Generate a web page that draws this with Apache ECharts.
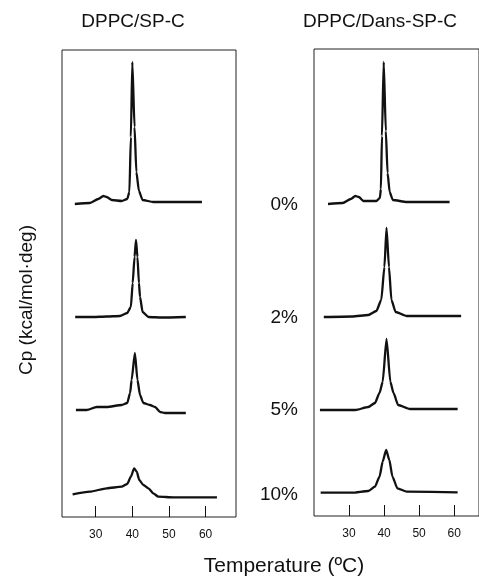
<!DOCTYPE html>
<html>
<head>
<meta charset="utf-8">
<script src="https://cdn.jsdelivr.net/npm/echarts@6/dist/echarts.min.js"></script>
<style>html,body{margin:0;padding:0;background:#fff}#c{width:479px;height:581px}</style>
</head>
<body>
<div id="c"></div>
<script>
// ---- data ----
const panelTitles = ['DPPC/SP-C', 'DPPC/Dans-SP-C'];
const sampleLabels = ['0%', '2%', '5%', '10%'];
const tickValues = [30, 40, 50, 60];
const xTitle = 'Temperature (ºC)';
const yTitle = 'Cp (kcal/mol·deg)';

// DPPC/SP-C (left)
const L0_T  = [24.3, 28.4, 30.7, 32.1, 33.0, 34.4, 37.1, 38.6, 39.2, 39.6, 40.0, 40.6, 41.1, 41.8, 42.8, 45.7, 51.2, 59.0];
const L0_Cp = [-0.2, -0.1, 0.3, 0.6, 0.5, 0.2, 0.1, 0.3, 1.0, 6.5, 14.0, 7.5, 3.0, 1.1, 0.2, 0.0, 0.0, 0.0];
const L2_T  = [24.4, 29.3, 33.0, 36.6, 38.6, 39.6, 40.1, 40.6, 41.0, 41.4, 41.8, 42.1, 42.8, 44.4, 48.0, 54.6];
const L2_Cp = [0.0, 0.0, 0.05, 0.1, 0.4, 1.0, 3.4, 6.0, 7.7, 6.0, 3.4, 2.0, 0.5, 0.0, -0.05, 0.0];
const L5_T  = [24.6, 27.5, 30.3, 33.0, 37.1, 38.6, 39.4, 39.8, 40.7, 41.4, 42.1, 43.0, 44.8, 46.2, 47.6, 48.9, 54.6];
const L5_Cp = [0.3, 0.3, 0.6, 0.6, 0.8, 1.0, 2.0, 3.3, 6.0, 3.3, 1.8, 1.0, 0.8, 0.6, 0.1, 0.0, 0.0];
const L10_T  = [23.7, 28.4, 33.0, 37.1, 38.6, 39.6, 40.5, 41.2, 41.9, 43.0, 44.4, 45.7, 47.1, 51.2, 63.1];
const L10_Cp = [0.27, 0.53, 0.87, 1.03, 1.3, 2.03, 2.87, 2.53, 1.7, 1.2, 0.87, 0.37, 0.03, -0.03, -0.03];

// DPPC/Dans-SP-C (right)
const R0_T  = [24.0, 28.2, 30.5, 31.8, 32.8, 34.1, 37.8, 38.8, 39.1, 39.4, 39.9, 40.5, 41.0, 41.6, 42.5, 46.5, 58.7];
const R0_Cp = [-0.2, -0.1, 0.3, 0.6, 0.5, 0.1, 0.1, 0.4, 1.3, 6.6, 14.0, 7.1, 2.9, 1.0, 0.2, 0.0, 0.0];
const R2_T  = [22.8, 30.9, 35.5, 37.8, 39.2, 40.1, 40.7, 41.4, 42.1, 43.3, 46.5, 62.0];
const R2_Cp = [-0.1, -0.05, 0.1, 0.5, 1.6, 4.9, 8.8, 4.9, 1.6, 0.4, 0.0, 0.0];
const R5_T  = [21.7, 31.8, 35.5, 37.4, 38.7, 39.6, 40.7, 41.8, 42.7, 44.0, 47.4, 61.0];
const R5_Cp = [-0.1, -0.1, 0.2, 0.6, 1.6, 2.7, 7.0, 2.7, 1.6, 0.4, 0.0, 0.0];
const R10_T  = [21.9, 30.9, 35.5, 37.4, 38.7, 39.6, 40.6, 41.5, 42.4, 43.8, 46.5, 61.0];
const R10_Cp = [-0.07, -0.07, 0.1, 0.53, 1.53, 3.03, 4.2, 3.2, 1.53, 0.37, 0.03, -0.03];

// vertical stacking offsets of the traces (0%, 2%, 5%, 10%)
const leftOffsets  = [31.5, 20.0, 10.4, 2.0];
const rightOffsets = [31.4, 20.0, 10.7, 2.4];

// ---- chart ----
const FONT = 'Liberation Sans, Arial, sans-serif';
const INK = '#111';
function pts(T, Cp, off) { return T.map((t, i) => [t, Cp[i] + off]); }
const leftTraces  = [[L0_T, L0_Cp], [L2_T, L2_Cp], [L5_T, L5_Cp], [L10_T, L10_Cp]];
const rightTraces = [[R0_T, R0_Cp], [R2_T, R2_Cp], [R5_T, R5_Cp], [R10_T, R10_Cp]];

const series = [];
leftTraces.forEach((tr, i) => series.push({
  type: 'line', xAxisIndex: 0, yAxisIndex: 0, data: pts(tr[0], tr[1], leftOffsets[i]),
  showSymbol: false, smooth: 0.2, smoothMonotone: 'x', lineStyle: { color: INK, width: 2.3 }, silent: true
}));
rightTraces.forEach((tr, i) => series.push({
  type: 'line', xAxisIndex: 1, yAxisIndex: 1, data: pts(tr[0], tr[1], rightOffsets[i]),
  showSymbol: false, smooth: 0.2, smoothMonotone: 'x', lineStyle: { color: INK, width: 2.3 }, silent: true
}));

function xAxis(gi, min, max) {
  return {
    type: 'value', gridIndex: gi, min: min, max: max,
    axisLine: { show: false },
    splitLine: { show: false },
    axisTick: { show: true, inside: true, length: 11, customValues: tickValues, lineStyle: { color: INK, width: 1 } },
    axisLabel: { show: true, customValues: tickValues, color: INK, fontSize: 12, fontFamily: FONT, margin: 12 }
  };
}
function yAxis(gi) {
  return { type: 'value', gridIndex: gi, min: 0, max: 46.7, show: false };
}

const labelY = [205, 318, 410, 495];
const graphic = [
  { type: 'text', x: 133, y: 22, style: { text: panelTitles[0], fill: INK, font: '19px ' + FONT, textAlign: 'center', textVerticalAlign: 'middle' } },
  { type: 'text', x: 380, y: 22, style: { text: panelTitles[1], fill: INK, font: '19px ' + FONT, textAlign: 'center', textVerticalAlign: 'middle' } },
  { type: 'text', x: 284, y: 566, style: { text: xTitle, fill: INK, font: '21px ' + FONT, textAlign: 'center', textVerticalAlign: 'middle' } },
  { type: 'text', x: 27, y: 300, rotation: Math.PI / 2, style: { text: yTitle, fill: INK, font: '19px ' + FONT, textAlign: 'center', textVerticalAlign: 'middle' } }
];
sampleLabels.forEach((s, i) => graphic.push({
  type: 'text', x: 298, y: labelY[i], style: { text: s, fill: INK, font: '19px ' + FONT, textAlign: 'right', textVerticalAlign: 'middle' }
}));

const chart = echarts.init(document.getElementById('c'), null, { renderer: 'canvas' });
chart.setOption({
  animation: false,
  backgroundColor: '#fff',
  grid: [
    { left: 62, top: 50, width: 174, height: 467, show: true, borderColor: '#222', borderWidth: 1, backgroundColor: 'transparent' },
    { left: 314, top: 49, width: 171, height: 467, show: true, borderColor: '#222', borderWidth: 1, backgroundColor: 'transparent' }
  ],
  xAxis: [xAxis(0, 20.8, 68.3), xAxis(1, 20.0, 67.1)],
  yAxis: [yAxis(0), yAxis(1)],
  series: series,
  graphic: graphic
});
</script>
</body>
</html>
